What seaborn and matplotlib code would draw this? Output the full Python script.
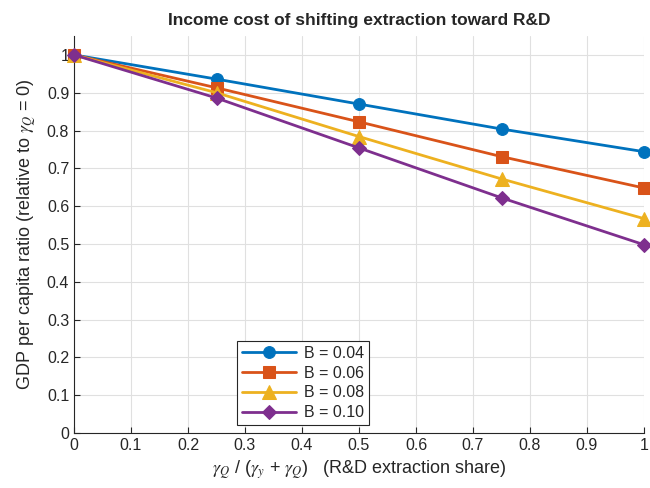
import matplotlib
matplotlib.use("Agg")
import matplotlib.pyplot as plt
import seaborn as sns
import pandas as pd

share = [0, 0.25, 0.5, 0.75, 1.0]
b_labels = ["B = 0.04", "B = 0.06", "B = 0.08", "B = 0.10"]
ratio_b004 = [1.0, 0.936, 0.870, 0.804, 0.744]
ratio_b006 = [1.0, 0.913, 0.823, 0.731, 0.648]
ratio_b008 = [1.0, 0.900, 0.784, 0.672, 0.567]
ratio_b010 = [1.0, 0.886, 0.754, 0.622, 0.498]
xticks = [0, 0.1, 0.2, 0.3, 0.4, 0.5, 0.6, 0.7, 0.8, 0.9, 1]
yticks = [0, 0.1, 0.2, 0.3, 0.4, 0.5, 0.6, 0.7, 0.8, 0.9, 1]

rows = []
for lab, vals in zip(b_labels, [ratio_b004, ratio_b006, ratio_b008, ratio_b010]):
    for s, v in zip(share, vals):
        rows.append({"share": s, "ratio": v, "B": lab})
df = pd.DataFrame(rows)

sns.set_style("whitegrid")
plt.rcParams["font.family"] = ["Liberation Sans", "DejaVu Sans"]
plt.rcParams["mathtext.fontset"] = "stix"

colors = ["#0072BD", "#D95319", "#EDB120", "#7E2F8E"]
markers = ["o", "s", "^", "D"]

fig = plt.figure(figsize=(6.5, 4.88), dpi=100)
ax = fig.add_axes([74 / 650, 1 - 433 / 488, 570 / 650, (433 - 36) / 488])

for lab, c, m in zip(b_labels, colors, markers):
    sub = df[df["B"] == lab]
    ms = {"o": 8.5, "s": 8, "^": 9.5, "D": 7.5}[m]
    sns.lineplot(data=sub, x="share", y="ratio", ax=ax, color=c, marker=m,
                 markersize=ms, markeredgecolor=c,
                 linewidth=2, label=lab, clip_on=False, zorder=3)

ax.set_xlim(0, 1)
ax.set_ylim(0, 1.05)
ax.set_xticks(xticks)
ax.set_xticklabels([("%g" % t) for t in xticks])
ax.set_yticks(yticks)
ax.set_yticklabels([("%g" % t) for t in yticks])
ax.tick_params(labelsize=11.5, colors="#262626", length=4, direction="in",
               bottom=True, left=True)
ax.grid(True, color="#E0E0E0", linewidth=0.8)
for side in ["left", "bottom"]:
    ax.spines[side].set_color("#262626")
    ax.spines[side].set_linewidth(0.8)
for side in ["top", "right"]:
    ax.spines[side].set_visible(False)

ax.set_title("Income cost of shifting extraction toward R&D", fontsize=12.5,
             fontweight="bold", color="#262626", pad=8)
ax.set_xlabel(r"$\gamma_Q$ / ($\gamma_y$ + $\gamma_Q$)   (R&D extraction share)",
              fontsize=13, color="#262626", labelpad=4)
ax.set_ylabel(r"GDP per capita ratio (relative to $\gamma_Q$ = 0)",
              fontsize=13, color="#262626", labelpad=6)

leg = ax.legend(loc="lower left", bbox_to_anchor=(0.272, 0.0), fontsize=11.5,
                frameon=True, fancybox=False, edgecolor="#262626",
                framealpha=1, handlelength=3.4, borderpad=0.3, labelspacing=0.3,
                handletextpad=0.5)
leg.get_frame().set_linewidth(0.8)

fig.savefig("out.png", dpi=100)
